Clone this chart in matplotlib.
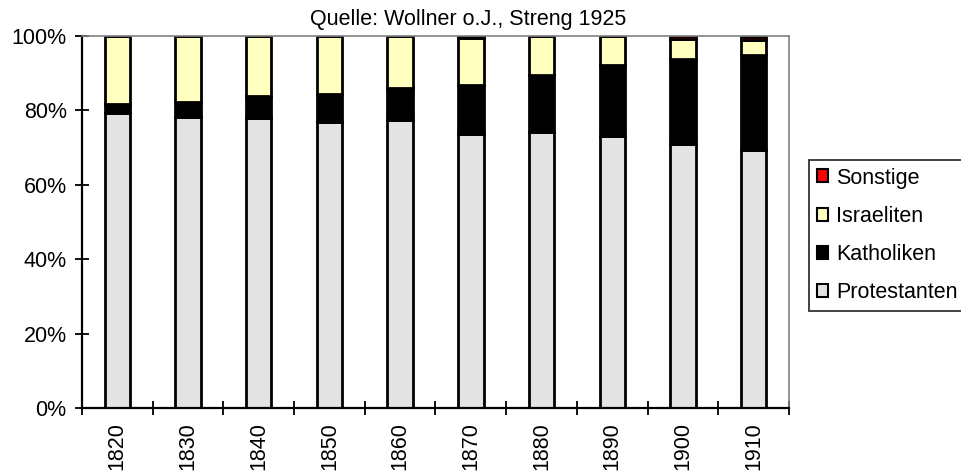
import matplotlib.pyplot as plt
import numpy as np

plt.rcParams['font.family'] = ['Liberation Sans', 'DejaVu Sans']

# Anteile in Prozent
jahre = ['1820', '1830', '1840', '1850', '1860', '1870', '1880', '1890', '1900', '1910']
protestanten = [79.3, 78.1, 78.0, 77.0, 77.5, 73.7, 74.3, 73.2, 71.0, 69.4]
katholiken = [2.4, 4.2, 5.8, 7.5, 8.5, 13.1, 15.2, 19.0, 22.7, 25.5]
israeliten = [18.3, 17.7, 16.2, 15.5, 14.0, 12.7, 10.5, 7.8, 5.6, 4.0]
sonstige = [0.0, 0.0, 0.0, 0.0, 0.0, 0.5, 0.0, 0.0, 0.7, 0.9]

serien = [
    ('Protestanten', protestanten, '#E3E3E3'),
    ('Katholiken', katholiken, '#000000'),
    ('Israeliten', israeliten, '#FFFFC0'),
    ('Sonstige', sonstige, '#FF0000'),
]

fs = 15.5

fig = plt.figure(figsize=(9.62, 4.71), dpi=100)
ax = fig.add_axes([82 / 962, 1 - 408 / 471, 707 / 962, 372 / 471])

x = np.arange(len(jahre))
unten = np.zeros(len(jahre))
handles = []
for name, werte, farbe in serien:
    werte = np.array(werte)
    b = ax.bar(x, werte, bottom=unten, width=0.36, color=farbe,
               edgecolor='black', linewidth=2.0, label=name)
    handles.append(b)
    unten += werte

ax.set_xlim(-0.5, len(jahre) - 0.5)
ax.set_ylim(0, 100)

ax.set_yticks(range(0, 101, 20))
ax.set_yticklabels([f'{v}%' for v in range(0, 101, 20)], fontsize=fs)
ax.tick_params(axis='y', direction='inout', length=10, width=1.3, pad=6)

ax.set_xticks(x)
ax.set_xticklabels(jahre, rotation=90, fontsize=fs)
ax.tick_params(axis='x', which='major', length=0, pad=10)
ax.set_xticks(np.arange(-0.5, len(jahre)), minor=True)
ax.tick_params(axis='x', which='minor', direction='inout', length=10, width=1.3)

for s in ['top', 'right']:
    ax.spines[s].set_color('#808080')
    ax.spines[s].set_linewidth(1.2)
for s in ['left', 'bottom']:
    ax.spines[s].set_color('black')
    ax.spines[s].set_linewidth(1.6)

fig.text(468 / 962, 1 - 19 / 471, 'Quelle: Wollner o.J., Streng 1925',
         fontsize=fs, ha='center', va='center')

leg = fig.legend(handles[::-1], [h.get_label() for h in handles[::-1]],
                 loc='upper left', bbox_to_anchor=(809 / 962, 1 - 160 / 471),
                 fontsize=fs, frameon=True, fancybox=False, shadow=False,
                 handlelength=0.55, handleheight=0.55, handletextpad=0.35,
                 labelspacing=0.8, borderpad=0.35, borderaxespad=0)
leg.get_frame().set_edgecolor('black')
leg.get_frame().set_linewidth(1.3)
for h in leg.legend_handles:
    h.set_linewidth(1.5)

plt.savefig('out.png', dpi=100)
